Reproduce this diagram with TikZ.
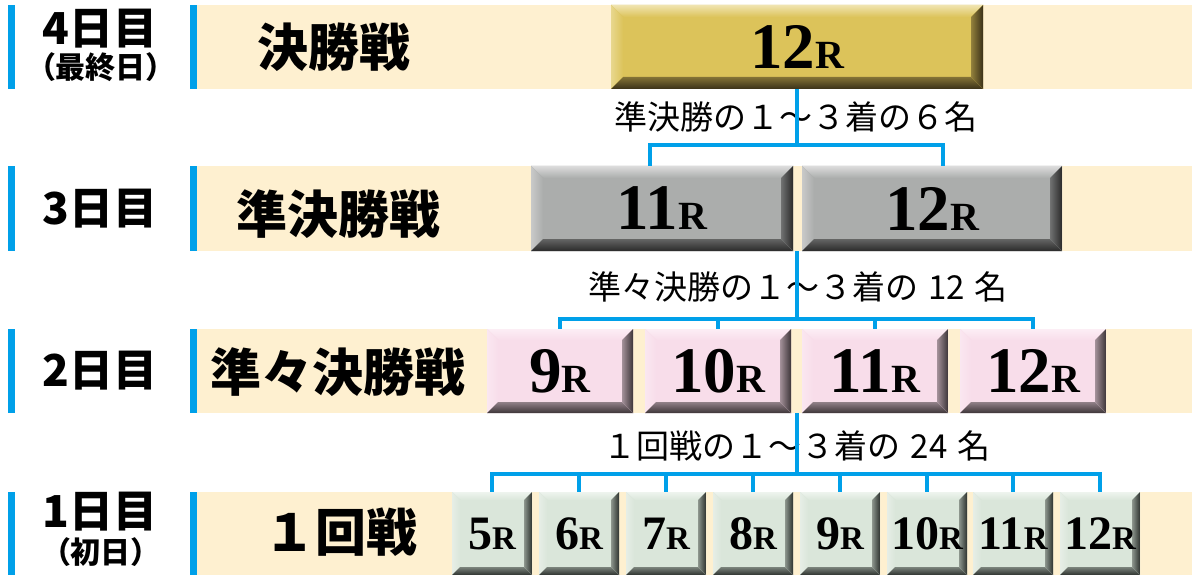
\documentclass[tikz,border=0pt]{standalone}
\usepackage{fontspec}
\newfontfamily\jp{Noto Sans CJK JP}
\newfontfamily\serifnum{Liberation Serif}
\usetikzlibrary{calc}
\definecolor{cream}{HTML}{FEF0D0}
\definecolor{myblue}{HTML}{00A0E9}
\definecolor{goldB}{HTML}{DCC35A}
\definecolor{goldL}{HTML}{F0E4B0}
\definecolor{goldD}{HTML}{3A3018}
\definecolor{grayB}{HTML}{ABADAC}
\definecolor{grayL}{HTML}{DCDCDC}
\definecolor{grayD}{HTML}{2A2A2A}
\definecolor{pinkB}{HTML}{F8DDEA}
\definecolor{pinkL}{HTML}{FCEEF5}
\definecolor{pinkD}{HTML}{3D3538}
\definecolor{greenB}{HTML}{DAE6DA}
\definecolor{greenL}{HTML}{EEF4EE}
\definecolor{greenD}{HTML}{2E332F}
\newcommand\bignum[1]{{\serifnum\bfseries\fontsize{65}{65}\selectfont #1}{\serifnum\bfseries\fontsize{40}{40}\selectfont R}}
\newcommand\smallnum[1]{{\serifnum\bfseries\fontsize{48}{48}\selectfont #1}{\serifnum\bfseries\fontsize{33}{33}\selectfont R}}
\tikzset{
  bev/.style n args={4}{fill=#1, draw=none, inner sep=0pt, text depth=0pt,
    path picture={
      \coordinate (nw) at (path picture bounding box.north west);
      \coordinate (se) at (path picture bounding box.south east);
      \coordinate (ne) at (nw -| se);
      \coordinate (sw) at (nw |- se);
      \fill[top color=#2, bottom color=#1] (nw) -- (ne) -- ($(ne)+(-#4,#4)$) -- ($(nw)+(#4,#4)$) -- cycle;
      \fill[left color=#2!60!#1, right color=#1] (nw) -- (sw) -- ($(sw)+(#4,-#4)$) -- ($(nw)+(#4,#4)$) -- cycle;
      \fill[left color=#1!55!#3, right color=#3] (ne) -- (se) -- ($(se)+(-#4,-#4)$) -- ($(ne)+(-#4,#4)$) -- cycle;
      \fill[top color=#1!45!#3, bottom color=#3] (sw) -- (se) -- ($(se)+(-#4,-#4)$) -- ($(sw)+(#4,-#4)$) -- cycle;
    }},
}
\begin{document}
\begin{tikzpicture}[x=1pt,y=-1pt,
  band/.style={fill=cream, draw=none},
  bar/.style={fill=myblue, draw=none},
  conn/.style={draw=myblue, line width=4.5pt},
  day/.style={font=\jp\bfseries\fontsize{44}{44}\selectfont, inner sep=0pt},
  sub/.style={font=\jp\bfseries\fontsize{30}{30}\selectfont, inner sep=0pt},
  stage/.style={font=\jp\bfseries\fontsize{51}{51}\selectfont, inner sep=0pt},
  info/.style={font=\jp\fontsize{33}{33}\selectfont, inner sep=0pt},
  goldbox/.style={bev={goldB}{goldL}{goldD}{12}, minimum width=372pt, minimum height=84pt},
  graybox/.style={bev={grayB}{grayL}{grayD}{12}, minimum height=85pt},
  pinkbox/.style={bev={pinkB}{pinkL}{pinkD}{11}, minimum width=146pt, minimum height=84pt},
  greenbox/.style={bev={greenB}{greenL}{greenD}{8}, minimum width=80pt, minimum height=83pt},
]
\useasboundingbox (0,0) rectangle (1192,575);
\fill[white] (0,0) rectangle (1192,575);
% bands
\foreach \ya/\yb in {5/89,166/251,329/413,492/575}{
  \path[band] (197,\ya) rectangle (1192,\yb);
  \path[bar] (8,\ya) rectangle (15,\yb);
  \path[bar] (190,\ya) rectangle (197,\yb);
}
% day labels
\node[day] (d4) at (100,29) {4日目};
\node[sub] (d4s) at (101,67) {（最終日）};
\node[day] (d3) at (100,209) {3日目};
\node[day] (d2) at (100,371) {2日目};
\node[day] (d1) at (100,512) {1日目};
\node[sub] (d1s) at (101,552) {（初日）};
% stage labels
\node[stage] (n4) at (334,47) {決勝戦};
\node[stage] (n3) at (338,214) {準決勝戦};
\node[stage] (n2) at (338,372) {準々決勝戦};
\node[stage] (n1) at (341,532) {１回戦};
% info texts
\node[info] (t1) at (796,117) {準決勝の１～３着の６名};
\node[info] (t2) at (798,287) {準々決勝の１～３着の\hspace{0.3em}12\hspace{0.3em}名};
\node[info] (t3) at (797,446) {１回戦の１～３着の\hspace{0.3em}24\hspace{0.3em}名};
% boxes
\node[goldbox] (g12) at (797,47) {\bignum{12}};
\node[graybox, minimum width=262pt] (s11) at (662,208.5) {\bignum{11}};
\node[graybox, minimum width=260pt] (s12) at (932,208.5) {\bignum{12}};
\node[pinkbox] (q9) at (560,371) {\bignum{9}};
\node[pinkbox] (q10) at (718,371) {\bignum{10}};
\node[pinkbox] (q11) at (875,371) {\bignum{11}};
\node[pinkbox] (q12) at (1033,371) {\bignum{12}};
\foreach \n/\x in {5/492,6/579,7/666,8/753,9/840,10/927,11/1013,12/1100}{
  \node[greenbox] (r\n) at (\x,533.5) {\smallnum{\n}};
}
% connectors
\coordinate (j1) at (797,145);
\coordinate (m3) at (797,251);
\coordinate (j2) at (797,319);
\coordinate (m2) at (797,413);
\coordinate (j3) at (797,474);
\draw[conn] (g12.south) -- (j1);
\draw[conn] ([xshift=-12pt]s11.north) |- (j1) -| ([xshift=11pt]s12.north);
\draw[conn] (m3) -- (j2);
\draw[conn] (q9.north) |- (j2) -| (q12.north);
\draw[conn] (q10.north) -- (q10.north |- j2);
\draw[conn] (q11.north) -- (q11.north |- j2);
\draw[conn] (m2) -- (j3);
\draw[conn] (r5.north) |- (j3) -| (r12.north);
\foreach \n in {6,7,8,9,10,11}{
  \draw[conn] (r\n.north) -- (r\n.north |- j3);
}
\end{tikzpicture}
\end{document}
